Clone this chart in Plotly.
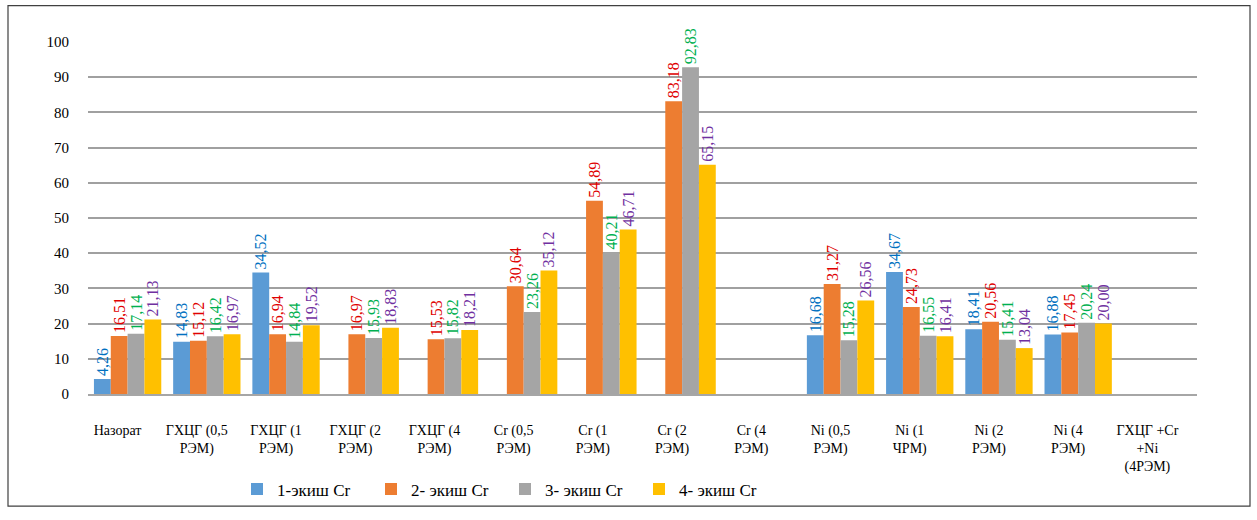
import plotly.graph_objects as go

categories = [
    "Назорат", "ГХЦГ (0,5<br>РЭМ)", "ГХЦГ (1<br>РЭМ)", "ГХЦГ (2<br>РЭМ)", "ГХЦГ (4<br>РЭМ)",
    "Cr (0,5<br>РЭМ)", "Cr (1<br>РЭМ)", "Cr (2<br>РЭМ)", "Cr (4<br>РЭМ)",
    "Ni (0,5<br>РЭМ)", "Ni (1<br>ЧРМ)", "Ni (2<br>РЭМ)", "Ni (4<br>РЭМ)",
    "ГХЦГ +Cr<br>+Ni<br>(4РЭМ)",
]
series_names = ["1-экиш Cr", "2- экиш Cr", "3- экиш Cr", "4- экиш Cr"]
s1 = [4.26, 14.83, 34.52, None, None, None, None, None, None, 16.68, 34.67, 18.41, 16.88, None]
s2 = [16.51, 15.12, 16.94, 16.97, 15.53, 30.64, 54.89, 83.18, None, 31.27, 24.73, 20.56, 17.45, None]
s3 = [17.14, 16.42, 14.84, 15.93, 15.82, 23.26, 40.21, 92.83, None, 15.28, 16.55, 15.41, 20.24, None]
s4 = [21.13, 16.97, 19.52, 18.83, 18.21, 35.12, 46.71, 65.15, None, 26.56, 16.41, 13.04, 20.00, None]
y_ticks = [0, 10, 20, 30, 40, 50, 60, 70, 80, 90, 100]

bar_colors = ["#5B9BD5", "#ED7D31", "#A5A5A5", "#FFC000"]
label_colors = ["#0070C0", "#E00000", "#00B050", "#7030A0"]
SERIF = "Liberation Serif"

def fmt(v):
    return "" if v is None else f"{v:.2f}".replace(".", ",")

fig = go.Figure()
for name, vals, bc, lc in zip(series_names, [s1, s2, s3, s4], bar_colors, label_colors):
    fig.add_trace(go.Bar(
        x=categories, y=vals, name=name,
        marker=dict(color=bc, line=dict(width=0)),
        text=[fmt(v) for v in vals], textposition="outside", textangle=-90,
        textfont=dict(family=SERIF, size=16, color=lc),
        cliponaxis=False, constraintext="none",
    ))

L, R, T, B = 88, 60, 42, 120
W, H = 1257, 520
pw, ph = W - L - R, H - T - B

def px(x):
    return (x - L) / pw

def py(y):
    return (H - B - y) / ph

fig.update_layout(
    width=W, height=H,
    margin=dict(l=L, r=R, t=T, b=B),
    paper_bgcolor="white", plot_bgcolor="white",
    barmode="group", bargap=0.15, bargroupgap=0,
    font=dict(family=SERIF, size=13, color="#000000"),
    legend=dict(
        orientation="h", x=px(237), xanchor="left", y=py(497), yanchor="middle",
        font=dict(family=SERIF, size=17, color="#000000"),
        entrywidth=89, entrywidthmode="pixels", itemwidth=30,
        bgcolor="rgba(0,0,0,0)", borderwidth=0,
    ),
    xaxis=dict(
        showgrid=False, showline=True, linecolor="#A6A6A6", linewidth=2,
        tickfont=dict(family=SERIF, size=14, color="#000000"),
        ticks="", ticklabelstandoff=22, ticklabelshift=-10,
    ),
    yaxis=dict(
        range=[0, 100], tickvals=y_ticks, showgrid=True, gridcolor="#A0A0A0", gridwidth=2,
        zeroline=False, showline=False, ticks="",
        tickfont=dict(family=SERIF, size=15, color="#000000"),
        ticklabelstandoff=18,
    ),
    shapes=[dict(type="rect", xref="paper", yref="paper",
                 x0=px(8), x1=px(1250), y0=py(514), y1=py(5),
                 line=dict(color="#404040", width=1.2), fillcolor="rgba(0,0,0,0)", layer="below")],
)

fig.write_html("out.html")
